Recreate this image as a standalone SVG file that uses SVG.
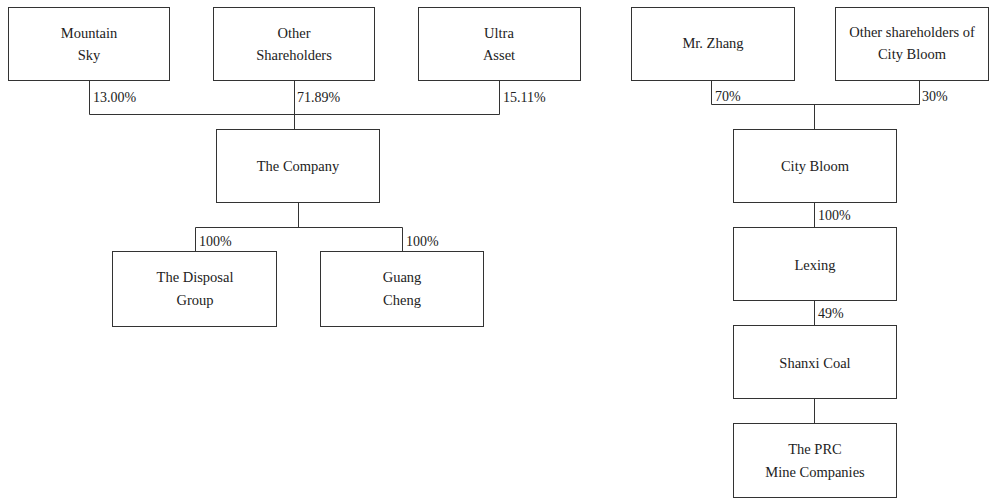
<svg xmlns="http://www.w3.org/2000/svg" width="990" height="499" viewBox="0 0 990 499">
<style>
.box{fill:#fff;stroke:#333;stroke-width:1}
.ln{fill:none;stroke:#333;stroke-width:1}
text{font-family:"Liberation Serif","Times New Roman",serif;fill:#222}
.t{font-size:14.5px;text-anchor:middle}
.p{font-size:14px}
</style>
<rect width="990" height="499" fill="#fff"/>
<g id="connectors">
<path class="ln" d="M89.5 80.5V114.5H499.5V80.5M294.5 80.5V129"/>
<path class="ln" d="M298.5 203V227.5M195.5 251V227.5H402.5V251"/>
<path class="ln" d="M711.5 80.5V104.5H919.5V80.5M814.5 104.5V129"/>
<path class="ln" d="M814.5 203V227M814.5 301V325M814.5 399V423"/>
<text class="p" x="93" y="102">13.00%</text>
<text class="p" x="297" y="102">71.89%</text>
<text class="p" x="503" y="102">15.11%</text>
<text class="p" x="199" y="246">100%</text>
<text class="p" x="406" y="246">100%</text>
<text class="p" x="715" y="101">70%</text>
<text class="p" x="922" y="101">30%</text>
<text class="p" x="818" y="220">100%</text>
<text class="p" x="818" y="318">49%</text>
</g>
<g id="mountain-sky"><rect class="box" x="8.5" y="7.5" width="161" height="73"/><text class="t" x="89" y="38">Mountain</text><text class="t" x="89" y="60">Sky</text></g>
<g id="other-shareholders"><rect class="box" x="213.5" y="7.5" width="161" height="73"/><text class="t" x="294" y="38">Other</text><text class="t" x="294" y="60">Shareholders</text></g>
<g id="ultra-asset"><rect class="box" x="418.5" y="7.5" width="162" height="73"/><text class="t" x="499" y="38">Ultra</text><text class="t" x="499" y="60">Asset</text></g>
<g id="the-company"><rect class="box" x="216.5" y="129.5" width="163" height="73"/><text class="t" x="298" y="171">The Company</text></g>
<g id="disposal-group"><rect class="box" x="112.5" y="251.5" width="164" height="75"/><text class="t" x="195" y="282">The Disposal</text><text class="t" x="195" y="305">Group</text></g>
<g id="guang-cheng"><rect class="box" x="320.5" y="251.5" width="163" height="75"/><text class="t" x="402" y="282">Guang</text><text class="t" x="402" y="305">Cheng</text></g>
<g id="mr-zhang"><rect class="box" x="631.5" y="7.5" width="163" height="73"/><text class="t" x="713" y="48">Mr. Zhang</text></g>
<g id="other-city-bloom"><rect class="box" x="835.5" y="7.5" width="153" height="73"/><text class="t" x="912" y="37">Other shareholders of</text><text class="t" x="912" y="59">City Bloom</text></g>
<g id="city-bloom"><rect class="box" x="733.5" y="129.5" width="163" height="73"/><text class="t" x="815" y="171">City Bloom</text></g>
<g id="lexing"><rect class="box" x="733.5" y="227.5" width="163" height="73"/><text class="t" x="815" y="270">Lexing</text></g>
<g id="shanxi-coal"><rect class="box" x="733.5" y="325.5" width="163" height="73"/><text class="t" x="815" y="368">Shanxi Coal</text></g>
<g id="prc-mine"><rect class="box" x="733.5" y="423.5" width="163" height="74"/><text class="t" x="815" y="454">The PRC</text><text class="t" x="815" y="477">Mine Companies</text></g>
</svg>
